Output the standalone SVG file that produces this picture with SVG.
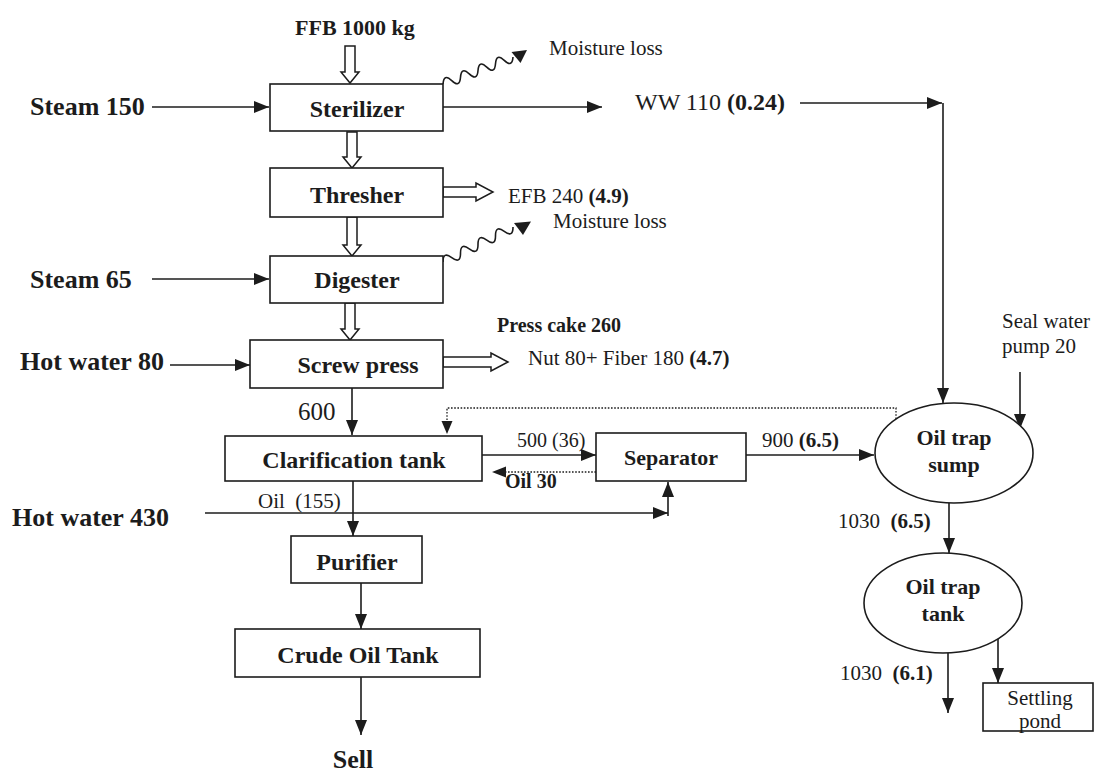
<svg xmlns="http://www.w3.org/2000/svg" width="1094" height="773" viewBox="0 0 1094 773">
  <style>
    .box { fill: #fff; stroke: #1c1c1c; stroke-width: 1.6; }
    .line { fill: none; stroke: #1c1c1c; stroke-width: 1.6; }
    .dot { fill: none; stroke: #1c1c1c; stroke-width: 1.3; stroke-dasharray: 1.6 1.6; }
    .hollow { fill: #fff; stroke: #1c1c1c; stroke-width: 1.5; stroke-linejoin: miter; }
    .head { fill: #1c1c1c; }
    text { font-family: "Liberation Serif", "Times New Roman", serif; fill: #1c1c1c; }
    .lbl { font-size: 24px; font-weight: bold; text-anchor: middle; }
    .lbl2 { font-size: 22px; font-weight: bold; text-anchor: middle; }
    .in { font-size: 26px; font-weight: bold; }
    .note { font-size: 21px; }
    .b { font-weight: bold; }
  </style>
  <defs>
    <marker id="arr" viewBox="0 0 15 12" refX="15" refY="6" markerWidth="15" markerHeight="12" markerUnits="userSpaceOnUse" orient="auto">
      <path d="M0,0 L15,6 L0,12 Z" class="head"/>
    </marker>
  </defs>

  <!-- connectors -->
  <g id="connectors">
    <!-- hollow solid-flow arrows -->
    <polygon class="hollow" points="345,46 355,46 355,72 359,72 350,83 341,72 345,72"/>
    <polygon class="hollow" points="347,132 357,132 357,157 361,157 352,168 343,157 347,157"/>
    <polygon class="hollow" points="347,217 357,217 357,245 361,245 352,256 343,245 347,245"/>
    <polygon class="hollow" points="345,303 355,303 355,329 359,329 350,340 341,329 345,329"/>
    <polygon class="hollow" points="443,187 476,187 476,183 493,192 476,201 476,197 443,197"/>
    <polygon class="hollow" points="443,357 491,357 491,353 508,362 491,371 491,367 443,367"/>

    <!-- moisture loss waves -->
    <path class="line" stroke-width="1.2" d="M443,84 q0.8,-11 8.75,-3.375 t8.75,-3.375 t8.75,-3.375 t8.75,-3.375 t8.75,-3.375 t8.75,-3.375 t8.75,-3.375 t8.75,-3.375"/>
    <polygon class="head" points="511.5,52 527,50 520.5,63"/>
    <path class="line" stroke-width="1.2" d="M443,262 q-0.1,-11.1 8.75,-4.375 t8.75,-4.375 t8.75,-4.375 t8.75,-4.375 t8.75,-4.375 t8.75,-4.375 t8.75,-4.375 t8.75,-4.375"/>
    <polygon class="head" points="514,223 531,221.5 523,235"/>

    <!-- inputs from the left -->
    <line class="line" x1="152" y1="107" x2="269" y2="107" marker-end="url(#arr)"/>
    <line class="line" x1="152" y1="279" x2="269" y2="279" marker-end="url(#arr)"/>
    <line class="line" x1="170" y1="365" x2="250" y2="365" marker-end="url(#arr)"/>

    <!-- sterilizer waste water to sump -->
    <line class="line" x1="443" y1="107" x2="602" y2="107" marker-end="url(#arr)"/>
    <line class="line" x1="800" y1="103" x2="942" y2="103" marker-end="url(#arr)"/>
    <line class="line" x1="943" y1="103" x2="943" y2="403" marker-end="url(#arr)"/>

    <!-- press liquor to clarification -->
    <line class="line" x1="352" y1="388" x2="352" y2="435" marker-end="url(#arr)"/>

    <!-- sump oil return (dotted) -->
    <polyline class="dot" points="896,419 896,408 447,408 447,421"/>
    <path class="head" d="M441.5,421 L452.5,421 L447,434 Z"/>

    <!-- clarification <-> separator -->
    <line class="line" x1="482" y1="455" x2="596" y2="455" marker-end="url(#arr)"/>
    <line class="dot" x1="596" y1="472" x2="506" y2="472"/>
    <path class="head" d="M506,466.5 L506,477.5 L492,472 Z"/>

    <!-- separator to sump -->
    <line class="line" x1="746" y1="455" x2="874" y2="455" marker-end="url(#arr)"/>
    <line class="line" x1="1020" y1="372" x2="1020" y2="429" marker-end="url(#arr)"/>

    <!-- hot water 430 to separator -->
    <line class="line" x1="205" y1="513" x2="668" y2="513" marker-end="url(#arr)"/>
    <line class="line" x1="668" y1="516" x2="668" y2="482" marker-end="url(#arr)"/>

    <!-- oil line -->
    <line class="line" x1="353" y1="481" x2="353" y2="536" marker-end="url(#arr)"/>
    <line class="line" x1="361" y1="583" x2="361" y2="629" marker-end="url(#arr)"/>
    <line class="line" x1="361" y1="677" x2="361" y2="735" marker-end="url(#arr)"/>

    <!-- sump / trap tank / pond -->
    <line class="line" x1="949" y1="503" x2="949" y2="553" marker-end="url(#arr)"/>
    <line class="line" x1="948" y1="653" x2="948" y2="713" marker-end="url(#arr)"/>
    <line class="line" x1="998" y1="638" x2="998" y2="683" marker-end="url(#arr)"/>
  </g>

  <!-- process nodes -->
  <g id="sterilizer">
    <rect class="box" x="270" y="84" width="173" height="47"/>
    <text class="lbl" x="357" y="117">Sterilizer</text>
  </g>
  <g id="thresher">
    <rect class="box" x="270" y="168" width="173" height="49"/>
    <text class="lbl" x="357" y="203">Thresher</text>
  </g>
  <g id="digester">
    <rect class="box" x="270" y="256" width="173" height="47"/>
    <text class="lbl" x="357" y="288">Digester</text>
  </g>
  <g id="screw-press">
    <rect class="box" x="250" y="340" width="193" height="48"/>
    <text class="lbl" x="358" y="373">Screw press</text>
  </g>
  <g id="clarification-tank">
    <rect class="box" x="225" y="436" width="257" height="45"/>
    <text class="lbl" x="354" y="468">Clarification tank</text>
  </g>
  <g id="separator">
    <rect class="box" x="596" y="433" width="150" height="48"/>
    <text class="lbl2" x="671" y="465">Separator</text>
  </g>
  <g id="purifier">
    <rect class="box" x="291" y="536" width="131" height="47"/>
    <text class="lbl" x="357" y="570">Purifier</text>
  </g>
  <g id="crude-oil-tank">
    <rect class="box" x="235" y="629" width="245" height="48"/>
    <text class="lbl" x="358" y="663">Crude Oil Tank</text>
  </g>
  <g id="oil-trap-sump">
    <ellipse class="box" cx="954" cy="453" rx="79" ry="50"/>
    <text class="lbl2" x="954" y="445">Oil trap</text>
    <text class="lbl2" x="954" y="472">sump</text>
  </g>
  <g id="oil-trap-tank">
    <ellipse class="box" cx="943" cy="603" rx="79" ry="50"/>
    <text class="lbl2" x="943" y="594">Oil trap</text>
    <text class="lbl2" x="943" y="621">tank</text>
  </g>
  <g id="settling-pond">
    <rect class="box" x="983" y="683" width="110" height="48"/>
    <text class="note" x="1040" y="705" text-anchor="middle">Settling</text>
    <text class="note" x="1040" y="728" text-anchor="middle">pond</text>
  </g>

  <!-- stream labels -->
  <g id="labels">
    <text x="295" y="35" font-size="22" class="b">FFB 1000 kg</text>
    <text class="note" x="549" y="55">Moisture loss</text>
    <text class="note" x="553" y="228">Moisture loss</text>
    <text class="in" x="30" y="115">Steam 150</text>
    <text class="in" x="30" y="288">Steam 65</text>
    <text class="in" x="20" y="370">Hot water 80</text>
    <text class="in" x="12" y="526">Hot water 430</text>
    <text x="635" y="110" font-size="24">WW 110 <tspan class="b">(0.24)</tspan></text>
    <text class="note" x="508" y="203">EFB 240 <tspan class="b">(4.9)</tspan></text>
    <text x="497" y="332" font-size="20" class="b">Press cake 260</text>
    <text class="note" x="528" y="365">Nut 80+ Fiber 180 <tspan class="b">(4.7)</tspan></text>
    <text class="note" x="1002" y="328">Seal water</text>
    <text class="note" x="1002" y="353">pump 20</text>
    <text x="298" y="420" font-size="25">600</text>
    <text x="517" y="447" font-size="20">500 (36)</text>
    <text class="note" x="762" y="447">900 <tspan class="b">(6.5)</tspan></text>
    <text x="505" y="488" font-size="20" class="b">Oil 30</text>
    <text x="258" y="508" font-size="21" xml:space="preserve">Oil  (155)</text>
    <text class="note" x="838" y="528" xml:space="preserve">1030  <tspan class="b">(6.5)</tspan></text>
    <text class="note" x="840" y="680" xml:space="preserve">1030  <tspan class="b">(6.1)</tspan></text>
    <text x="353" y="768" font-size="26" class="b" text-anchor="middle">Sell</text>
  </g>
</svg>
